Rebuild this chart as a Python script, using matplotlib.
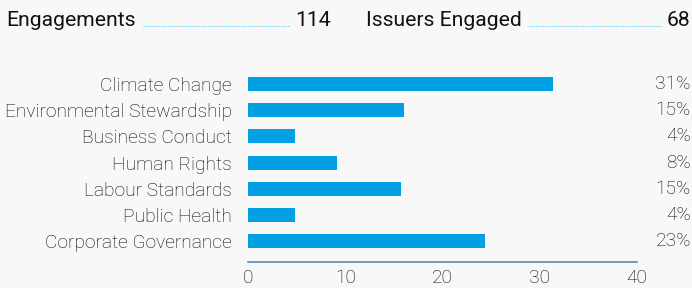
import matplotlib
matplotlib.use('Agg')
import matplotlib.pyplot as plt
import matplotlib.transforms as mtransforms
from matplotlib.lines import Line2D

categories = ['Climate Change', 'Environmental Stewardship', 'Business Conduct',
              'Human Rights', 'Labour Standards', 'Public Health', 'Corporate Governance']
values = [31.4, 16.0, 4.8, 9.1, 15.7, 4.8, 24.4]
pct_labels = ['31%', '15%', '4%', '8%', '15%', '4%', '23%']
engagements = 114
issuers_engaged = 68

plt.rcParams['font.family'] = ['Roboto', 'DejaVu Sans']
bg = '#f8f8f8'
bar_color = '#00a0e2'
txt = '#050505'

fig = plt.figure(figsize=(6.92, 2.88), dpi=100, facecolor=bg)
ax = fig.add_axes([0.3584, 0.0913, 0.5621, 0.6625], facecolor=bg)

ypos = list(range(len(categories)))
ax.barh(ypos, values, height=0.53, color=bar_color)
ax.set_xlim(0, 40)
ax.set_ylim(6.78, -0.5)
ax.set_yticks(ypos)
ax.set_yticklabels(categories, fontsize=13.8, fontweight='light', color=txt)
ax.set_xticks([0, 10, 20, 30, 40])
ax.tick_params(axis='x', length=0, labelsize=13.8, labelcolor=txt, pad=5)
ax.tick_params(axis='y', length=0, pad=11.5)
for lbl in ax.get_xticklabels():
    lbl.set_fontweight('light')
for s in ['top', 'right', 'left']:
    ax.spines[s].set_visible(False)
ax.spines['bottom'].set_color('#5a8ab5')
ax.spines['bottom'].set_linewidth(1.2)

trans = mtransforms.blended_transform_factory(fig.transFigure, ax.transData)
for y, t in zip(ypos, pct_labels):
    ax.text(0.9985, y, t, transform=trans, ha='right', va='center',
            fontsize=13.8, fontweight='light', color=txt)

# header stats with dotted leaders
hy = 1 - 21 / 288
fig.text(6 / 692, hy, 'Engagements', fontsize=15.2, color='#111111', va='center')
fig.text(331 / 692, hy, str(engagements), fontsize=15.2, color='#111111',
         va='center', ha='right')
fig.text(366 / 692, hy, 'Issuers Engaged', fontsize=15.2, color='#111111', va='center')
fig.text(690 / 692, hy, str(issuers_engaged), fontsize=15.2, color='#111111',
         va='center', ha='right')
fig.add_artist(Line2D([143 / 692, 290 / 692], [1 - 25.5 / 288] * 2, transform=fig.transFigure,
                      color='#6fd0f5', lw=0.8, ls=(0, (1, 1))))
fig.add_artist(Line2D([529 / 692, 662 / 692], [1 - 25.5 / 288] * 2, transform=fig.transFigure,
                      color='#6fd0f5', lw=0.8, ls=(0, (1, 1))))

fig.savefig('out.png', dpi=100, facecolor=bg)
